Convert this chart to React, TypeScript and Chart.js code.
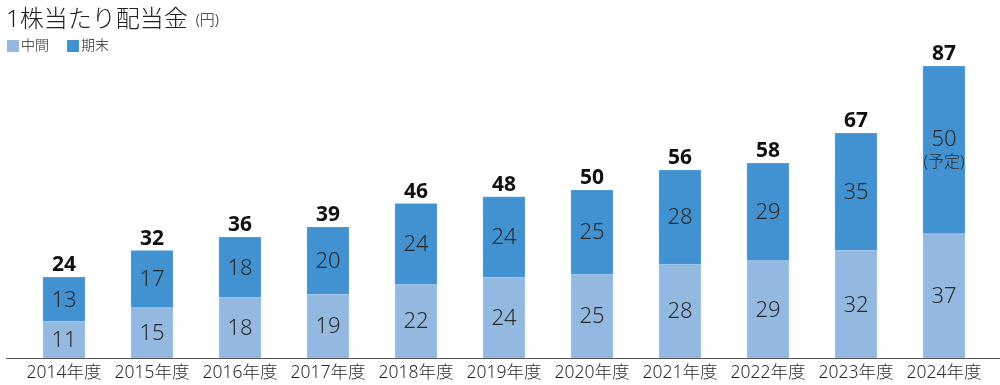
import React, { useEffect, useRef } from "react";
import { Chart, registerables } from "chart.js";

Chart.register(...registerables);

const categories = ["2014年度", "2015年度", "2016年度", "2017年度", "2018年度", "2019年度", "2020年度", "2021年度", "2022年度", "2023年度", "2024年度"];
const interim = [11, 15, 18, 19, 22, 24, 25, 28, 29, 32, 37];
const yearEnd = [13, 17, 18, 20, 24, 24, 25, 28, 29, 35, 50];
const totals = [24, 32, 36, 39, 46, 48, 50, 56, 58, 67, 87];
const yearEndNotes = ["", "", "", "", "", "", "", "", "", "", "(予定)"];

const LIGHT = "#93b9e1";
const DARK = "#4291d0";
const FONT = "'Noto Sans', 'Noto Sans CJK JP', sans-serif";

const overlayPlugin = {
  id: "overlay",
  afterDatasetsDraw(chart: any) {
    const ctx = chart.ctx;
    ctx.save();
    // segment labels
    chart.data.datasets.forEach((ds: any, di: number) => {
      const meta = chart.getDatasetMeta(di);
      meta.data.forEach((bar: any, i: number) => {
        const mid = (bar.y + bar.base) / 2;
        ctx.fillStyle = "#2b2b2b";
        ctx.textAlign = "center";
        ctx.textBaseline = "middle";
        ctx.font = `300 22px ${FONT}`;
        const note = di === 1 ? yearEndNotes[i] : "";
        if (note) {
          ctx.fillText(String(ds.data[i]), bar.x, mid - 10);
          ctx.font = `300 16px ${FONT}`;
          ctx.fillText(note, bar.x, mid + 13);
        } else {
          ctx.fillText(String(ds.data[i]), bar.x, mid + 1);
        }
      });
    });
    // totals
    const topMeta = chart.getDatasetMeta(1);
    topMeta.data.forEach((bar: any, i: number) => {
      ctx.fillStyle = "#111";
      ctx.textAlign = "center";
      ctx.textBaseline = "alphabetic";
      ctx.font = `bold 21px ${FONT}`;
      ctx.fillText(String(totals[i]), bar.x, bar.y - 6);
    });
    // axis line
    const y = chart.scales.y.getPixelForValue(0);
    ctx.strokeStyle = "#555";
    ctx.lineWidth = 1;
    ctx.beginPath();
    ctx.moveTo(6, Math.round(y) + 0.5);
    ctx.lineTo(1000, Math.round(y) + 0.5);
    ctx.stroke();
    // x labels
    const xs = chart.scales.x;
    ctx.fillStyle = "#2b2b2b";
    ctx.font = `300 17.5px ${FONT}`;
    ctx.textAlign = "center";
    ctx.textBaseline = "middle";
    categories.forEach((c, i) => {
      ctx.fillText(c, xs.getPixelForValue(i), y + 15);
    });
    // title
    ctx.textAlign = "left";
    ctx.textBaseline = "alphabetic";
    ctx.fillStyle = "#222";
    ctx.font = `300 24px ${FONT}`;
    ctx.fillText("1株当たり配当金", 6, 27);
    const w = ctx.measureText("1株当たり配当金").width;
    ctx.font = `300 15px ${FONT}`;
    ctx.fillText("(円)", 6 + w + 8, 25);
    // legend
    ctx.fillStyle = LIGHT;
    ctx.fillRect(7, 40, 12, 12);
    ctx.fillStyle = DARK;
    ctx.fillRect(67, 40, 12, 12);
    ctx.fillStyle = "#222";
    ctx.font = `300 14px ${FONT}`;
    ctx.textBaseline = "middle";
    ctx.fillText("中間", 21, 46);
    ctx.fillText("期末", 81, 46);
    ctx.restore();
  },
};

export default function App() {
  const ref = useRef<HTMLCanvasElement>(null);
  useEffect(() => {
    const chart = new Chart(ref.current!, {
      type: "bar",
      data: {
        labels: categories,
        datasets: [
          { label: "中間", data: interim, backgroundColor: LIGHT, borderColor: "#a3c5e8", borderWidth: { top: 1, left: 1, right: 1, bottom: 0 }, barThickness: 42, borderSkipped: false },
          { label: "期末", data: yearEnd, backgroundColor: DARK, borderColor: "#5aa0d8", borderWidth: { top: 1, left: 1, right: 1, bottom: 0 }, barThickness: 42, borderSkipped: false },
        ],
      },
      options: {
        responsive: false,
        animation: false,
        layout: { padding: { top: 66, left: 20, right: 12, bottom: 27 } },
        plugins: { legend: { display: false }, tooltip: { enabled: false } },
        scales: {
          x: {
            stacked: true,
            grid: { display: false, drawTicks: false },
            border: { display: false },
            ticks: { display: false },
          },
          y: {
            stacked: true,
            display: false,
            min: 0,
            max: 87,
          },
        },
      },
      plugins: [overlayPlugin],
    });
    return () => chart.destroy();
  }, []);
  return (
    <div style={{ position: "fixed", left: 0, top: 0, width: 1000, height: 385, background: "#fff" }}>
      <canvas ref={ref} width={1000} height={385} style={{ width: 1000, height: 385 }} />
    </div>
  );
}
